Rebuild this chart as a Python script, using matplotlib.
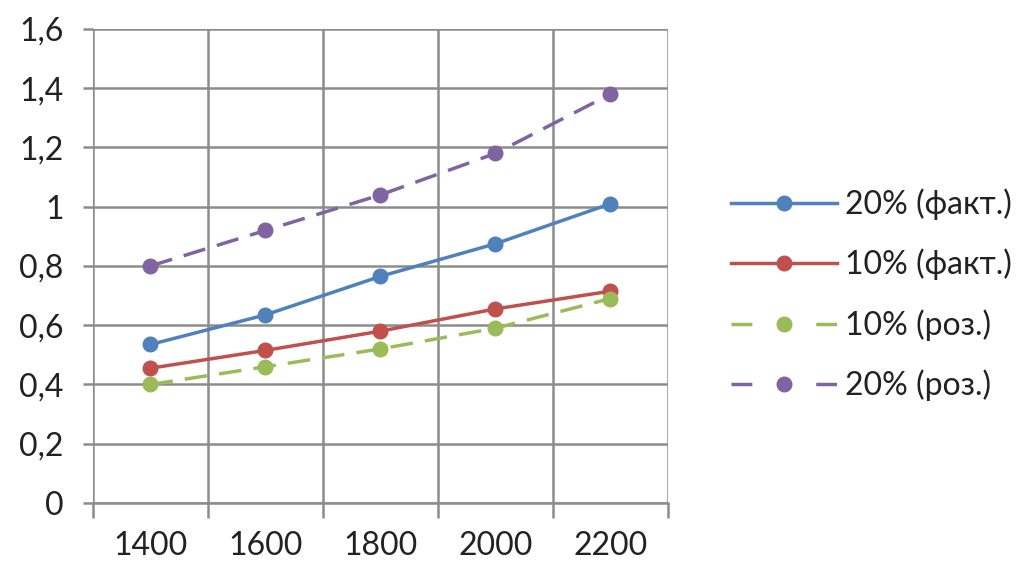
import numpy as np
import matplotlib.pyplot as plt
from matplotlib.ticker import FuncFormatter, FixedLocator

plt.rcParams['font.family'] = ['Lato', 'DejaVu Sans']

# дані
categories = ['1400', '1600', '1800', '2000', '2200']
fact_20 = [0.535, 0.635, 0.765, 0.875, 1.01]
fact_10 = [0.455, 0.515, 0.58, 0.655, 0.715]
roz_10 = [0.40, 0.46, 0.52, 0.59, 0.69]
roz_20 = [0.80, 0.92, 1.04, 1.18, 1.38]

series = [
    ('20% (факт.)', fact_20, '#4F81BD', '-'),
    ('10% (факт.)', fact_10, '#C0504D', '-'),
    ('10% (роз.)', roz_10, '#9BBB59', (0, (6.5, 3.5))),
    ('20% (роз.)', roz_20, '#8064A2', (0, (6.5, 3.5))),
]

fig = plt.figure(figsize=(10.24, 5.67), dpi=100)
ax = fig.add_axes([0.0908, 0.1129, 0.5615, 0.836])

x = np.arange(len(categories))
for label, vals, color, ls in series:
    ax.plot(x, vals, color=color, linestyle=ls, linewidth=2.5,
            marker='o', markersize=10.5, label=label)

grid_c = '#8c8c8c'
ax.set_xlim(-0.5, len(categories) - 0.5)
ax.set_ylim(0, 1.6)
ax.set_yticks(np.arange(0, 1.61, 0.2))
ax.yaxis.set_major_formatter(FuncFormatter(
    lambda v, p: ('%.1f' % v).rstrip('0').rstrip('.').replace('.', ',')))
ax.set_xticks(x)
ax.set_xticklabels(categories)
ax.xaxis.set_minor_locator(FixedLocator(np.arange(-0.5, len(categories), 1.0)))

ax.grid(True, axis='y', color=grid_c, linewidth=1.8)
ax.grid(True, axis='x', which='minor', color=grid_c, linewidth=1.8)
ax.set_axisbelow(True)
for s in ax.spines.values():
    s.set_visible(False)
ax.spines['bottom'].set_visible(True)
ax.spines['bottom'].set_color(grid_c)
ax.spines['bottom'].set_linewidth(1.8)

ax.tick_params(axis='x', which='major', length=0, pad=20, labelsize=23, colors='#222222')
ax.tick_params(axis='x', which='minor', length=11, width=1.8, color=grid_c)
ax.tick_params(axis='y', length=7, width=1.8, color=grid_c, pad=14,
               labelsize=23, colors=grid_c)
for t in ax.get_yticklabels():
    t.set_color('#222222')

leg = fig.legend(loc='center left', bbox_to_anchor=(0.686, 0.48),
                 frameon=False, fontsize=23, handlelength=3.3,
                 handletextpad=0.25, labelspacing=0.9)
for t in leg.get_texts():
    t.set_color('#222222')
# пунктир у легенді: штрих – маркер – штрих
for ln in leg.get_lines()[2:]:
    ln.set_dashes((6.0, 18.4))

fig.savefig('out.png', dpi=100, facecolor='white')
